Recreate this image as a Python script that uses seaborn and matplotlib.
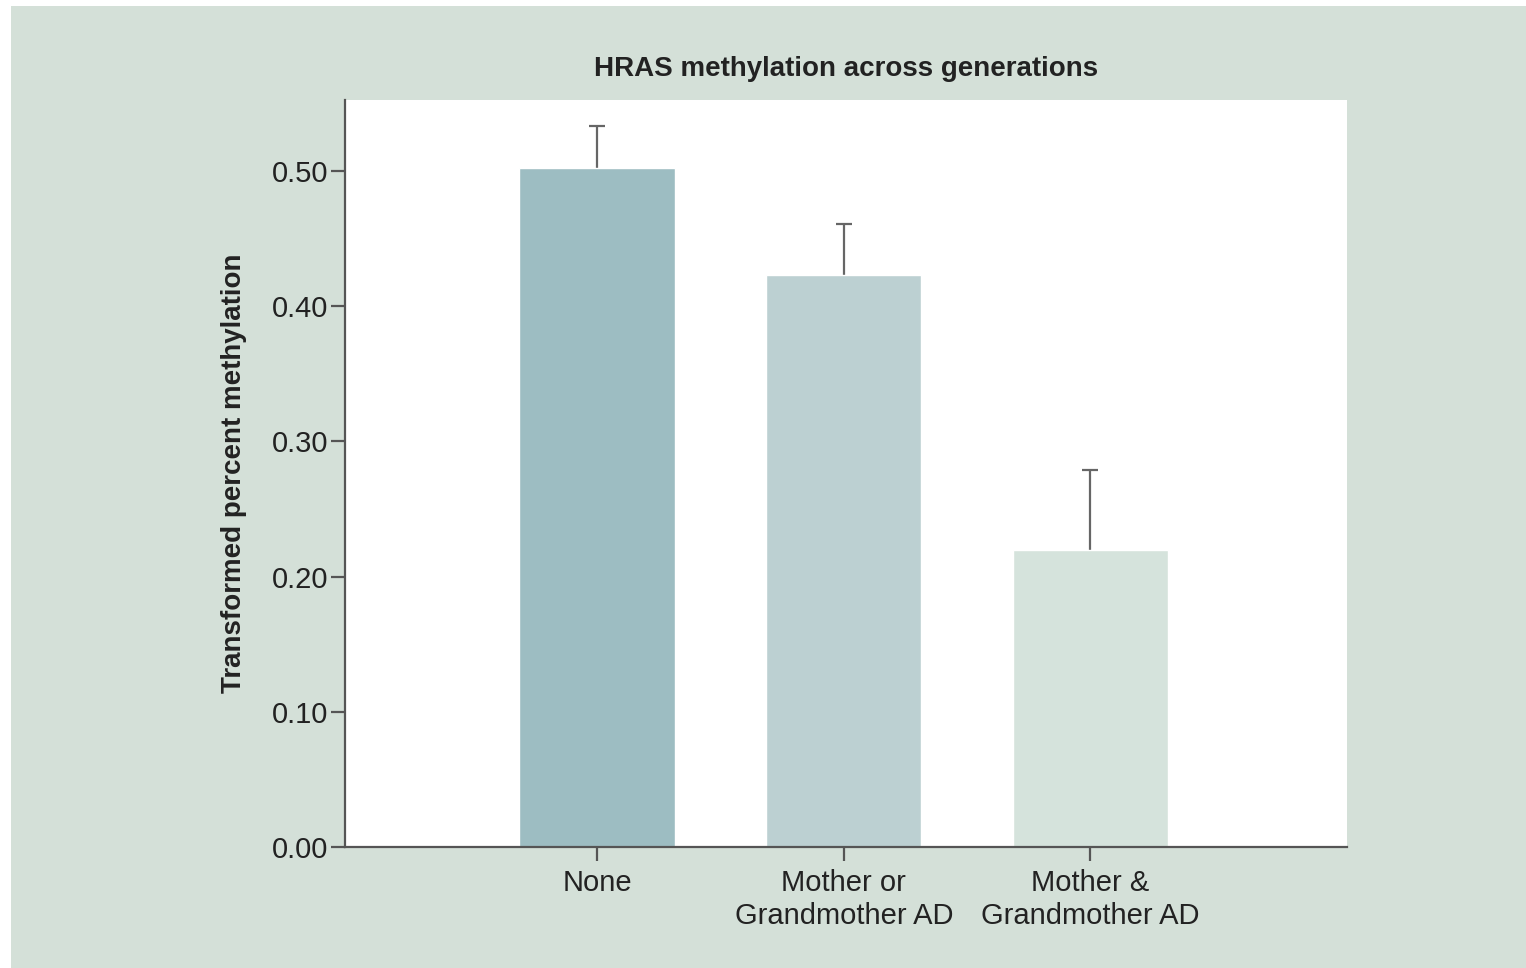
import matplotlib
matplotlib.use('Agg')
import matplotlib.pyplot as plt
import matplotlib.patches as patches
import numpy as np
import pandas as pd
import seaborn as sns

# Data.
categories = ['None', 'Mother or\nGrandmother AD', 'Mother &\nGrandmother AD']
means = [0.502, 0.423, 0.220]
upper_errors = [0.031, 0.038, 0.059]
bar_colors = ['#9dbdc2', '#bcd0d2', '#d5e3dc']
y_ticks = [0.00, 0.10, 0.20, 0.30, 0.40, 0.50]

BG = '#d4e0d8'
AXIS = '#555555'

sns.set_style('ticks')
plt.rcParams['font.family'] = ['Liberation Sans', 'DejaVu Sans']

fig = plt.figure(figsize=(15.26, 9.68), dpi=100)
fig.patch.set_facecolor('white')
# Greenish panel behind the chart, with a thin white border at top and left.
fig.add_artist(patches.Rectangle((11 / 1526, 0), 1 - 11 / 1526, 1 - 6 / 968,
                                 transform=fig.transFigure, facecolor=BG,
                                 edgecolor='none', zorder=-10))

ax = fig.add_axes([345 / 1526, 1 - 847 / 968, 1002 / 1526, 747 / 968])
ax.set_facecolor('white')

df = pd.DataFrame({'group': categories, 'value': means})
sns.barplot(data=df, x='group', y='value', hue='group', palette=bar_colors,
            saturation=1, width=0.63, legend=False, ax=ax, zorder=2)

# Upper-only error bars (hide the lower cap sitting on the bar top).
eb = ax.errorbar(x=np.arange(len(categories)), y=means,
                 yerr=[np.zeros(len(means)), upper_errors],
                 fmt='none', ecolor='#666666', elinewidth=1.6, capsize=5.5,
                 capthick=1.6, zorder=1)
eb[1][0].set_visible(False)

ax.set_xlim(-1.022, 3.04)
ax.set_ylim(0, 0.5525)
ax.set_yticks(y_ticks)
ax.set_yticklabels([f'{t:.2f}' for t in y_ticks])

ax.set_xlabel('')
ax.set_ylabel('Transformed percent methylation', fontsize=20, fontweight='bold',
              color='#222222', labelpad=18)
ax.set_title('HRAS methylation across generations', fontsize=20,
             fontweight='bold', color='#222222', pad=17)

sns.despine(ax=ax)
for side in ['left', 'bottom']:
    ax.spines[side].set_color(AXIS)
    ax.spines[side].set_linewidth(1.6)

ax.tick_params(axis='both', colors=AXIS, length=10, width=1.6,
               labelsize=21, labelcolor='#222222')
ax.tick_params(axis='y', pad=2)
ax.tick_params(axis='x', pad=6)
for lbl in ax.get_xticklabels():
    lbl.set_linespacing(1.22)

fig.savefig('out.png', dpi=100, facecolor=fig.get_facecolor())
